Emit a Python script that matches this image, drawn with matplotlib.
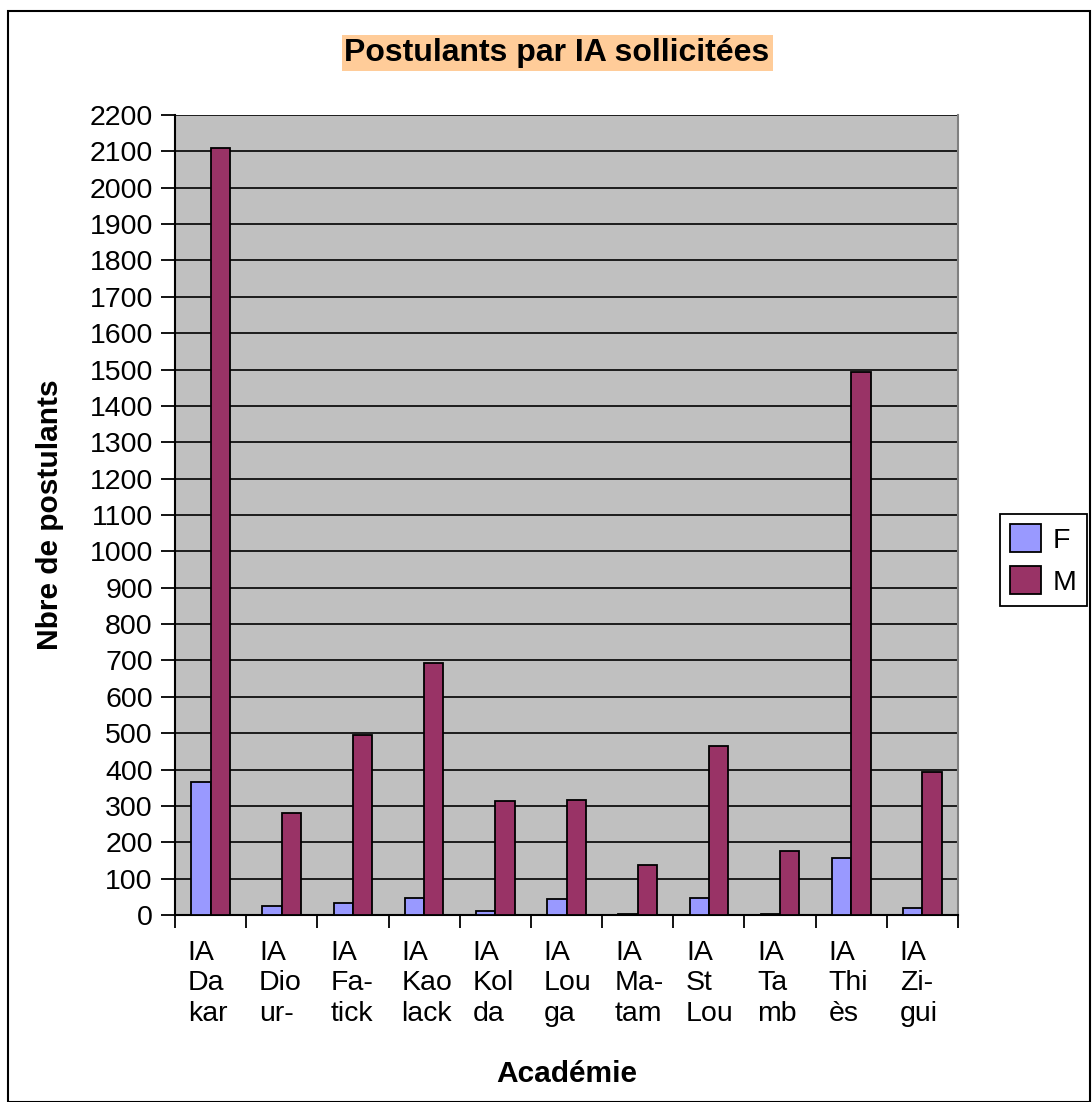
import matplotlib.pyplot as plt
import matplotlib.patches as mpatches
import numpy as np

plt.rcParams['font.family'] = ['Liberation Sans', 'DejaVu Sans']

# donnees
academies = ['IA\nDa\nkar', 'IA\nDio\nur-', 'IA\nFa-\ntick', 'IA\nKao\nlack', 'IA\nKol\nda',
             'IA\nLou\nga', 'IA\nMa-\ntam', 'IA\nSt\nLou', 'IA\nTa\nmb', 'IA\nThi\nès', 'IA\nZi-\ngui']
femmes = [367, 26, 32, 48, 11, 43, 4, 48, 4, 157, 20]
hommes = [2110, 280, 494, 692, 313, 317, 137, 465, 175, 1493, 393]

W, H = 1092, 1102
fig = plt.figure(figsize=(W / 100, H / 100), dpi=100)
ax = fig.add_axes([175 / W, 1 - 915 / H, 783 / W, 800 / H])
ax.set_facecolor('#C0C0C0')

x = np.arange(len(academies))
w = 0.272
ax.bar(x - w / 2, femmes, w, color='#9999FF', edgecolor='black', linewidth=1.3, label='F', zorder=3)
ax.bar(x + w / 2, hommes, w, color='#993366', edgecolor='black', linewidth=1.3, label='M', zorder=3)

ax.set_xlim(-0.5, len(academies) - 0.5)
ax.set_ylim(0, 2200)
ax.set_yticks(np.arange(0, 2201, 100))
ax.yaxis.grid(True, color='black', linewidth=1.2, zorder=1)
ax.set_axisbelow(True)

# ticks aux limites des groupes, etiquettes alignees a gauche
ax.set_xticks(np.arange(-0.5, len(academies), 1))
ax.set_xticklabels([])
ax.set_xticks(x - 0.32, minor=True)
ax.set_xticklabels(academies, minor=True, ha='left', fontsize=20.5, linespacing=1.22)
ax.tick_params(axis='x', which='major', direction='out', length=9, width=1.3, color='black')
ax.tick_params(axis='x', which='minor', length=0, pad=18)
ax.tick_params(axis='y', direction='out', length=10, width=1.3, pad=6, labelsize=20.5)

for s in ['left', 'bottom']:
    ax.spines[s].set_linewidth(1.5)
    ax.spines[s].set_color('black')
ax.spines['right'].set_color('#808080')
ax.spines['right'].set_linewidth(1.5)
ax.spines['top'].set_visible(False)

ax.set_xlabel('Académie', fontsize=21.5, fontweight='bold', labelpad=24)
ax.set_ylabel('Nbre de postulants', fontsize=21.5, fontweight='bold', labelpad=18)

fig.text(557 / W, 1 - 53 / H, 'Postulants par IA sollicitées', fontsize=23, fontweight='bold',
         ha='center', va='center',
         bbox=dict(facecolor='#FFCC99', edgecolor='none', pad=2))

leg = fig.legend(loc='center left', bbox_to_anchor=(1000 / W, 1 - 560 / H), fontsize=20.5,
                 fancybox=False, framealpha=1, edgecolor='black',
                 handlelength=1.1, handleheight=1.1, handletextpad=0.4,
                 borderpad=0.35, labelspacing=0.45, borderaxespad=0)
leg.get_frame().set_linewidth(1.3)

# cadre exterieur
fig.patches.append(mpatches.Rectangle((8 / W, 0), 1082 / W, 1 - 11 / H, transform=fig.transFigure,
                                      fill=False, edgecolor='black', linewidth=1.5))

fig.savefig('out.png', dpi=100)
